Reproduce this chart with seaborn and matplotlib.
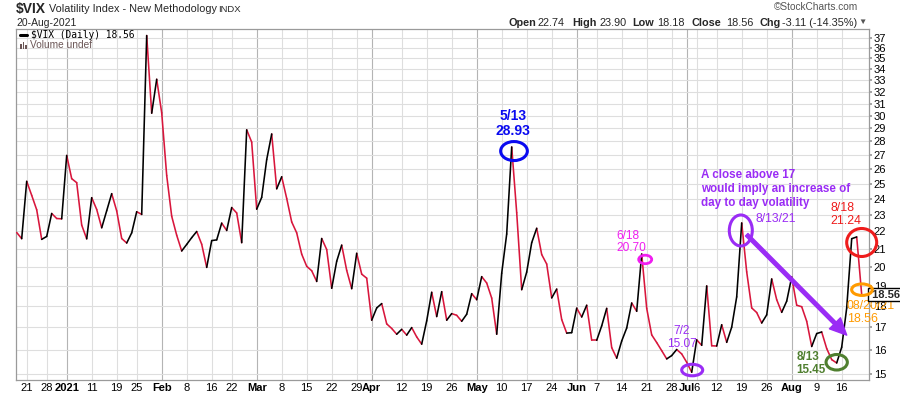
import numpy as np
import pandas as pd
import matplotlib
matplotlib.use("Agg")
import matplotlib.pyplot as plt
import seaborn as sns
from matplotlib.patches import Ellipse, FancyArrowPatch, Rectangle
from matplotlib.transforms import ScaledTranslation, blended_transform_factory
from matplotlib.ticker import FixedLocator, NullLocator, FixedFormatter

# ---------------- data (VIX daily closes) ----------------
dec_2020 = [21.93, 21.57, 25.16, 24.23, 23.31, 21.53, 21.70, 23.08, 22.77, 22.75]
jan_2021 = [26.97, 25.34, 25.07, 22.37, 21.56, 24.08, 23.33, 22.21, 23.25, 24.34,
            23.24, 21.58, 21.32, 21.91, 23.19, 23.02, 37.21, 30.21, 33.09]
feb_2021 = [30.24, 25.56, 22.91, 21.77, 20.87, 21.24, 21.63, 21.99, 21.25, 19.97,
            21.46, 21.50, 22.49, 22.05, 23.45, 23.11, 21.34, 28.89, 27.95]
mar_2021 = [23.35, 24.10, 26.67, 28.57, 24.66, 25.47, 24.03, 22.56, 21.91, 20.69,
            20.03, 19.79, 19.23, 21.58, 20.95, 18.88, 20.30, 21.20, 19.81, 18.86,
            20.74, 19.61, 19.40]
apr_2021 = [17.33, 17.91, 18.12, 17.16, 16.95, 16.69, 16.91, 16.65, 16.99, 16.57,
            16.25, 17.30, 18.68, 17.50, 18.71, 17.33, 17.64, 17.56, 17.28, 17.61, 18.61]
may_2021 = [18.31, 19.48, 19.15, 18.39, 16.69, 19.66, 21.84, 27.59, 23.13, 18.81,
            19.72, 21.34, 22.18, 20.67, 20.15, 18.40, 18.84, 17.36, 16.74, 16.76]
jun_2021 = [17.90, 17.48, 18.04, 16.42, 16.42, 17.07, 17.89, 16.10, 15.65, 16.39,
            16.97, 18.15, 17.75, 20.70, 17.89, 16.66, 16.32, 15.97, 15.62, 15.76,
            16.02, 15.83]
jul_2021 = [15.48, 15.07, 16.44, 16.20, 19.00, 16.18, 16.17, 17.12, 16.33, 17.01,
            18.45, 22.50, 19.73, 17.91, 17.69, 17.20, 17.58, 19.36, 18.31, 17.70, 18.24]
aug_2021 = [19.46, 18.04, 17.97, 17.28, 16.15, 16.72, 16.79, 16.06, 15.59, 15.45,
            16.12, 17.91, 21.57, 21.67, 18.56]

market_holidays = ["2020-12-25", "2021-01-01", "2021-01-18", "2021-02-15",
                   "2021-04-02", "2021-05-31", "2021-07-05"]

tick_dates = ["2020-12-21", "2020-12-28", "2021-01-04", "2021-01-11", "2021-01-19",
              "2021-01-25", "2021-02-01", "2021-02-08", "2021-02-16", "2021-02-22",
              "2021-03-01", "2021-03-08", "2021-03-15", "2021-03-22", "2021-03-29",
              "2021-04-01", "2021-04-12", "2021-04-19", "2021-04-26", "2021-05-03",
              "2021-05-10", "2021-05-17", "2021-05-24", "2021-06-01", "2021-06-07",
              "2021-06-14", "2021-06-21", "2021-06-28", "2021-07-01", "2021-07-06",
              "2021-07-12", "2021-07-19", "2021-07-26", "2021-08-02", "2021-08-09",
              "2021-08-16"]
tick_labels = ["21", "28", "2021", "11", "19", "25", "Feb", "8", "16", "22", "Mar",
               "8", "15", "22", "29", "Apr", "12", "19", "26", "May", "10", "17", "24",
               "Jun", "7", "14", "21", "28", "Jul", "6", "12", "19", "26", "Aug", "9", "16"]
y_ticks = list(range(15, 38))

# ---------------- build frame ----------------
closes = dec_2020 + jan_2021 + feb_2021 + mar_2021 + apr_2021 + may_2021 + jun_2021 + jul_2021 + aug_2021
bdays = pd.bdate_range("2020-12-17", "2021-08-20")
dates = bdays[~bdays.isin(pd.to_datetime(market_holidays))]
df = pd.DataFrame({"date": dates, "day": np.arange(len(dates)), "close": closes})
day_of = dict(zip(df["date"], df["day"]))

rows = []
for k in range(1, len(df)):
    d = "up" if df.close[k] > df.close[k - 1] else "down"
    rows.append((k, k - 1, df.close[k - 1], d))
    rows.append((k, k, df.close[k], d))
seg = pd.DataFrame(rows, columns=["seg", "day", "close", "dir"])

RED = "#d8163c"
PURPLE = "#9a2cf5"
BLUE = "#0a0af0"
MAGENTA = "#f01ef0"
GREEN = "#4f7f2f"
ARED = "#ee1c1c"
ORANGE = "#ff9a00"

sns.set_theme(style="white")
plt.rcParams["font.family"] = ["Liberation Sans", "DejaVu Sans"]

W, H = 900, 396
fig = plt.figure(figsize=(W / 100, H / 100), dpi=100)
ax = fig.add_axes([16 / W, 1 - 380 / H, (869 - 16) / W, (380 - 29.3) / H])

sns.lineplot(data=seg, x="day", y="close", units="seg", estimator=None, hue="dir",
             palette={"up": "black", "down": RED}, legend=False, lw=1.15,
             solid_capstyle="round", sort=False, ax=ax, zorder=4)

ax.set_yscale("log")
ax.set_ylim(14.76, 37.84)
ax.set_xlim(-0.14, 170.46)
ax.yaxis.set_major_locator(FixedLocator(y_ticks))
ax.yaxis.set_major_formatter(FixedFormatter([str(v) for v in y_ticks]))
ax.yaxis.set_minor_locator(NullLocator())
ax.yaxis.tick_right()
ax.set_xlabel("")
ax.set_ylabel("")

tick_pos = [day_of[pd.Timestamp(d)] for d in tick_dates]
ax.set_xticks(tick_pos)
ax.set_xticklabels(tick_labels)
bold_set = {"2021", "Feb", "Mar", "Apr", "May", "Jun", "Jul", "Aug"}
for lab in ax.get_xticklabels():
    if lab.get_text() in bold_set:
        lab.set_fontweight("bold")
ax.tick_params(axis="x", length=0, pad=2, labelsize=8, colors="black")
ax.tick_params(axis="y", length=2, pad=1.5, labelsize=8, colors="black", color="#999999")

ax.grid(True, which="major", color="#dedede", lw=0.8)
for lab, gl in zip(tick_labels, ax.xaxis.get_gridlines()):
    if lab in bold_set:
        gl.set_color("#b4b4b4")
for s in ax.spines.values():
    s.set_color("#9a9a9a")
    s.set_linewidth(0.9)
ax.set_axisbelow(True)

# ---------------- annotations ----------------
def ell(day, val, wpx, hpx, color, lw=2.2):
    e = Ellipse((0, 0), wpx / 100, hpx / 100, fill=False, ec=color, lw=lw,
                transform=fig.dpi_scale_trans + ScaledTranslation(day, val, ax.transData),
                clip_on=False, zorder=6)
    fig.add_artist(e)

ell(99.46, 27.29, 26.7, 19, BLUE)
ell(125.7, 20.40, 13, 8.5, MAGENTA, 2.0)
ell(135.1, 15.16, 21, 11.5, PURPLE)
ell(144.82, 22.05, 23, 31, PURPLE)
ell(164.0, 15.48, 21.3, 15.5, GREEN)
ell(169.0, 21.35, 30, 28, ARED)
ell(169.06, 18.81, 20.7, 11.5, ORANGE)

arrow = FancyArrowPatch((146, 21.8), (166, 16.65),
                        arrowstyle="simple,head_length=0.8,head_width=0.75,tail_width=0.17",
                        mutation_scale=15, color=PURPLE, shrinkA=0, shrinkB=0, zorder=7)
ax.add_patch(arrow)

ax.text(99.26, 29.4, "5/13\n28.93", color=BLUE, fontsize=10, fontweight="bold",
        ha="center", va="center", linespacing=1.1, zorder=8)
ax.text(119.86, 21.38, "6/18\n20.70", color=MAGENTA, fontsize=8.6,
        ha="left", va="center", linespacing=1.05, zorder=8)
ax.text(133.06, 16.53, "7/2\n15.07", color=PURPLE, fontsize=8.6,
        ha="center", va="center", linespacing=1.1, zorder=8)
ax.text(151.9, 22.76, "8/13/21", color=PURPLE, fontsize=8.8,
        ha="center", va="center", zorder=8)
ax.text(136.8, 24.65, "A close above 17\nwould imply an increase of\nday to day volatility",
        color=PURPLE, fontsize=8.4, fontweight="bold", ha="left", va="center",
        linespacing=1.2, zorder=8)
ax.text(155.96, 15.44, "8/13\n15.45", color=GREEN, fontsize=8.4, fontweight="bold",
        ha="left", va="center", linespacing=1.1, zorder=8)
ax.text(162.8, 23.0, "8/18\n21.24", color=ARED, fontsize=8.9,
        ha="left", va="center", linespacing=1.1, zorder=8)
ax.text(166.0, 17.68, "08/20/21\n18.56", color=ORANGE, fontsize=8.9,
        ha="left", va="center", linespacing=1.1, zorder=8, clip_on=False)

# last price box on the right axis
btr = blended_transform_factory(ax.transAxes, ax.transData)
ax.text(1.0, closes[-1], " %.2f" % closes[-1], transform=btr, fontsize=8, fontweight="bold",
        ha="left", va="center", zorder=20, clip_on=False,
        bbox=dict(boxstyle="square,pad=0.12", fc="white", ec="black", lw=1.0))

# ---------------- legend inside plot ----------------
def fx(x): return x / W
def fy(y): return 1 - y / H

fig.add_artist(plt.Line2D([fx(20), fx(27)], [fy(35), fy(35)], color="black", lw=2.2,
                          transform=fig.transFigure, zorder=9))
fig.text(fx(31), fy(35), "$VIX (Daily) %.2f" % closes[-1], fontsize=6.9,
         family="DejaVu Sans Mono", color="black", ha="left", va="center", zorder=9)
for bx, bh in [(20, 5), (22.5, 7), (25, 4)]:
    fig.add_artist(Rectangle((fx(bx), fy(49)), 1.8 / W, bh / H, transform=fig.transFigure,
                             color="#6b5656", lw=0, zorder=9))
fig.text(fx(29.5), fy(45.5), "Volume undef", fontsize=7.3, color="#6b5656",
         ha="left", va="center", zorder=9)

# ---------------- header ----------------
fig.text(fx(16), fy(9), "$VIX", fontsize=10, fontweight="bold", ha="left", va="center")
fig.text(fx(49), fy(9.5), "Volatility Index - New Methodology", fontsize=7.8,
         ha="left", va="center")
fig.text(fx(218), fy(9.8), "INDX", fontsize=6.8, ha="left", va="center")
fig.text(fx(16), fy(22.7), "20-Aug-2021", fontsize=7.5, ha="left", va="center")
fig.text(fx(858), fy(7.3), "\u00a9StockCharts.com", fontsize=7.3, color="#555555",
         ha="right", va="center")

header_parts = [("Open", True, 508.3), ("22.74", False, 537.3), ("High", True, 572.7),
                ("23.90", False, 600), ("Low", True, 632.7), ("18.18", False, 656.7),
                ("Close", True, 691.7), ("18.56", False, 726), ("Chg", True, 760),
                ("-3.11 (-14.35%)", False, 781.7)]
for s, b, x in header_parts:
    fig.text(fx(x), fy(22.7), s, fontsize=7.8, fontweight="bold" if b else "normal",
             ha="left", va="center")
fig.text(fx(858), fy(22.7), "\u25bc", fontsize=6, color="#555555", ha="left", va="center")

fig.savefig("out.png", dpi=100)
